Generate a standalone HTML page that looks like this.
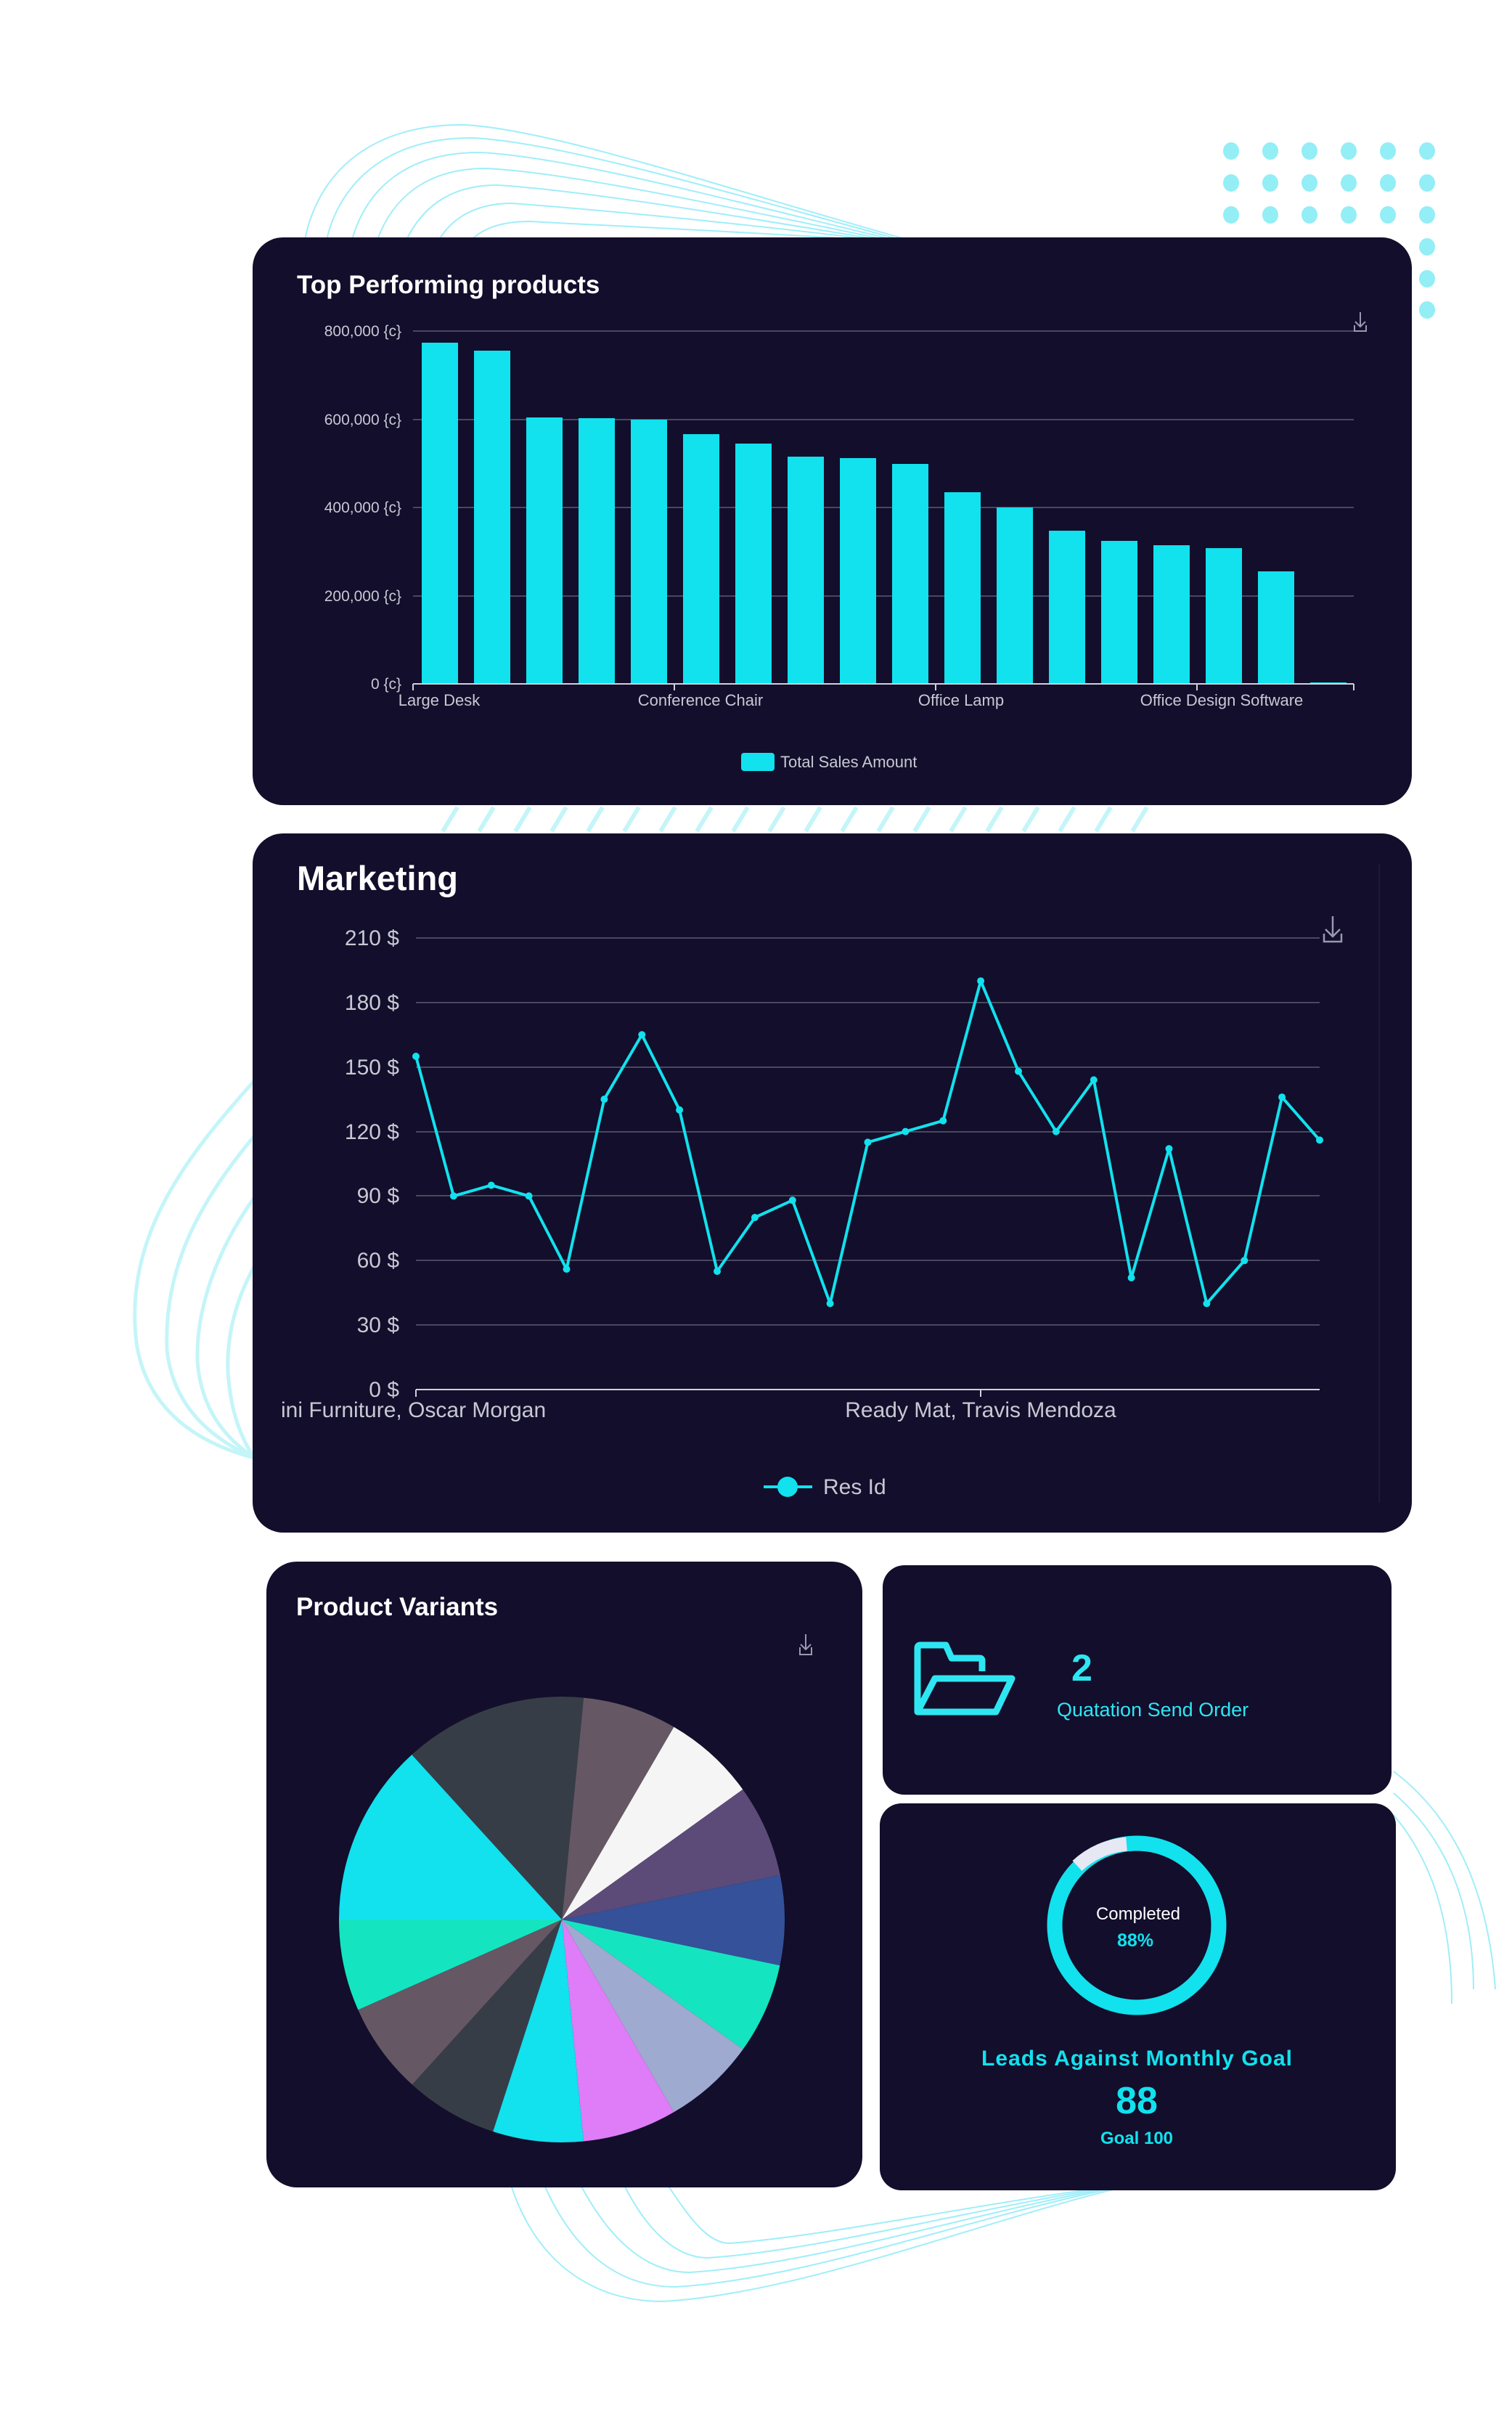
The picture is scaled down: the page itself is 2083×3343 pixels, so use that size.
<!DOCTYPE html>
<html><head><meta charset="utf-8"><style>
html,body{margin:0;padding:0;background:#fff;}
svg{display:block;}
text{font-family:"Liberation Sans",sans-serif;}
</style></head><body>
<svg width="2083" height="3343" viewBox="0 0 2083 3343" xmlns="http://www.w3.org/2000/svg">
<rect width="2083" height="3343" fill="#ffffff"/>
<g fill="none" stroke="#7fe9f7" stroke-width="2" opacity="0.75">
<path d="M420 330 C440 230 520 170 640 172 C760 178 1000 260 1250 330"/>
<path d="M450 330 C470 245 540 190 650 190 C770 195 1000 265 1240 330"/>
<path d="M485 330 C505 260 560 210 660 210 C780 215 1000 275 1230 330"/>
<path d="M520 330 C540 275 585 232 670 232 C790 238 1000 285 1220 330"/>
<path d="M560 330 C580 290 615 255 685 255 C800 262 1000 295 1210 330"/>
<path d="M605 330 C620 305 650 280 705 280 C810 288 1000 305 1200 330"/>
<path d="M650 330 C665 315 690 305 730 305 C820 310 1000 318 1190 330"/>
<path d="M704 3010 C740 3120 820 3170 913 3170 C1100 3160 1350 3060 1549 3012"/>
<path d="M750 3010 C790 3100 850 3150 930 3150 C1110 3140 1350 3050 1545 3012"/>
<path d="M800 3010 C840 3085 890 3130 950 3130 C1120 3120 1350 3045 1540 3012"/>
<path d="M860 3010 C890 3070 930 3110 975 3110 C1130 3100 1350 3040 1535 3012"/>
<path d="M920 3010 C950 3055 975 3090 1005 3090 C1140 3080 1350 3035 1530 3012"/>
<path d="M1920 2440 C2000 2500 2050 2600 2060 2740"/>
<path d="M1920 2470 C1990 2530 2030 2620 2030 2740"/>
<path d="M1920 2500 C1970 2560 2000 2640 2000 2760"/>
</g>
<g fill="none" stroke="#c4f5f8" stroke-width="5">
<path d="M350 1489 C260 1590 170 1700 188 1850 C205 1960 300 1995 350 2008"/>
<path d="M350 1565 C280 1650 225 1740 230 1860 C240 1950 310 1990 350 2008"/>
<path d="M350 1650 C300 1720 270 1800 272 1875 C278 1955 325 1990 350 2008"/>
<path d="M350 1745 C325 1790 312 1840 314 1890 C318 1950 335 1985 350 2008"/>
</g>
<g stroke="#c4f5f8" stroke-width="6">
<path d="M610 1145 L630 1112 M660 1145 L680 1112 M710 1145 L730 1112 M760 1145 L780 1112 M810 1145 L830 1112 M860 1145 L880 1112 M910 1145 L930 1112 M960 1145 L980 1112 M1010 1145 L1030 1112 M1060 1145 L1080 1112 M1110 1145 L1130 1112 M1160 1145 L1180 1112 M1210 1145 L1230 1112 M1260 1145 L1280 1112 M1310 1145 L1330 1112 M1360 1145 L1380 1112 M1410 1145 L1430 1112 M1460 1145 L1480 1112 M1510 1145 L1530 1112 M1560 1145 L1580 1112"/>
</g>
<g fill="#93eef5">
<ellipse cx="1696" cy="208" rx="11" ry="12"/><ellipse cx="1750" cy="208" rx="11" ry="12"/><ellipse cx="1804" cy="208" rx="11" ry="12"/><ellipse cx="1858" cy="208" rx="11" ry="12"/><ellipse cx="1912" cy="208" rx="11" ry="12"/><ellipse cx="1966" cy="208" rx="11" ry="12"/>
<ellipse cx="1696" cy="252" rx="11" ry="12"/><ellipse cx="1750" cy="252" rx="11" ry="12"/><ellipse cx="1804" cy="252" rx="11" ry="12"/><ellipse cx="1858" cy="252" rx="11" ry="12"/><ellipse cx="1912" cy="252" rx="11" ry="12"/><ellipse cx="1966" cy="252" rx="11" ry="12"/>
<ellipse cx="1696" cy="296" rx="11" ry="12"/><ellipse cx="1750" cy="296" rx="11" ry="12"/><ellipse cx="1804" cy="296" rx="11" ry="12"/><ellipse cx="1858" cy="296" rx="11" ry="12"/><ellipse cx="1912" cy="296" rx="11" ry="12"/><ellipse cx="1966" cy="296" rx="11" ry="12"/>
<ellipse cx="1966" cy="340" rx="11" ry="12"/><ellipse cx="1966" cy="384" rx="11" ry="12"/><ellipse cx="1966" cy="427" rx="11" ry="12"/>
</g>

<rect x="348" y="327" width="1597" height="782" rx="42" fill="#120e2b"/>
<text x="409" y="404" font-size="35" font-weight="bold" fill="#ffffff">Top Performing products</text>
<g stroke="#4a4860" stroke-width="2">
<line x1="569" y1="456" x2="1865" y2="456"/><line x1="569" y1="578" x2="1865" y2="578"/><line x1="569" y1="699" x2="1865" y2="699"/><line x1="569" y1="821" x2="1865" y2="821"/>
</g>
<g font-size="21" fill="#c8c8d4" text-anchor="end">
<text x="553" y="463">800,000 {c}</text><text x="553" y="585">600,000 {c}</text><text x="553" y="706">400,000 {c}</text><text x="553" y="828">200,000 {c}</text><text x="553" y="949">0 {c}</text>
</g>
<g fill="#12e1ee">
<rect x="581" y="472" width="50" height="470"/><rect x="653" y="483" width="50" height="459"/><rect x="725" y="575" width="50" height="367"/><rect x="797" y="576" width="50" height="366"/><rect x="869" y="578" width="50" height="364"/><rect x="941" y="598" width="50" height="344"/><rect x="1013" y="611" width="50" height="331"/><rect x="1085" y="629" width="50" height="313"/><rect x="1157" y="631" width="50" height="311"/><rect x="1229" y="639" width="50" height="303"/><rect x="1301" y="678" width="50" height="264"/><rect x="1373" y="699" width="50" height="243"/><rect x="1445" y="731" width="50" height="211"/><rect x="1517" y="745" width="50" height="197"/><rect x="1589" y="751" width="50" height="191"/><rect x="1661" y="755" width="50" height="187"/><rect x="1733" y="787" width="50" height="155"/><rect x="1805" y="940" width="50" height="2"/>
</g>
<g stroke="#d0d0dc" stroke-width="2">
<line x1="569" y1="942" x2="1865" y2="942"/>
<line x1="569" y1="942" x2="569" y2="951"/><line x1="929" y1="942" x2="929" y2="951"/><line x1="1289" y1="942" x2="1289" y2="951"/><line x1="1649" y1="942" x2="1649" y2="951"/><line x1="1865" y1="942" x2="1865" y2="951"/>
</g>
<g font-size="22" fill="#c8c8d4" text-anchor="middle">
<text x="605" y="972">Large Desk</text><text x="965" y="972">Conference Chair</text><text x="1324" y="972">Office Lamp</text><text x="1683" y="972">Office Design Software</text>
</g>
<rect x="1021" y="1037" width="46" height="25" rx="4" fill="#12e1ee"/>
<text x="1075" y="1057" font-size="22" fill="#c8c8d4">Total Sales Amount</text>
<g stroke="#9a98ae" stroke-width="2" fill="none"><path d="M1874 430 V450 M1867 443 L1874 450 L1881 443 M1866 448 V456 H1882 V448"/></g>

<rect x="348" y="1148" width="1597" height="963" rx="42" fill="#120e2b"/>
<line x1="1900" y1="1190" x2="1900" y2="2070" stroke="#1d1a38" stroke-width="2"/>
<text x="409" y="1226" font-size="47" font-weight="bold" fill="#ffffff">Marketing</text>
<g stroke="#4a4860" stroke-width="2">
<line x1="573" y1="1292" x2="1818" y2="1292"/><line x1="573" y1="1381" x2="1818" y2="1381"/><line x1="573" y1="1470" x2="1818" y2="1470"/><line x1="573" y1="1559" x2="1818" y2="1559"/><line x1="573" y1="1647" x2="1818" y2="1647"/><line x1="573" y1="1736" x2="1818" y2="1736"/><line x1="573" y1="1825" x2="1818" y2="1825"/>
</g>
<line x1="573" y1="1914" x2="1818" y2="1914" stroke="#d0d0dc" stroke-width="2"/>
<line x1="573" y1="1914" x2="573" y2="1924" stroke="#d0d0dc" stroke-width="2"/>
<line x1="1351" y1="1914" x2="1351" y2="1924" stroke="#d0d0dc" stroke-width="2"/>
<g font-size="30" fill="#c8c8d4" text-anchor="end">
<text x="550" y="1302">210 $</text><text x="550" y="1391">180 $</text><text x="550" y="1480">150 $</text><text x="550" y="1569">120 $</text><text x="550" y="1657">90 $</text><text x="550" y="1746">60 $</text><text x="550" y="1835">30 $</text><text x="550" y="1924">0 $</text>
</g>
<text x="387" y="1952" font-size="30" fill="#c8c8d4">ini Furniture, Oscar Morgan</text>
<text x="1351" y="1952" font-size="30" fill="#c8c8d4" text-anchor="middle">Ready Mat, Travis Mendoza</text>
<polyline fill="none" stroke="#12e1ee" stroke-width="4" stroke-linejoin="round" points="573,1455 624.9,1647.4 676.8,1632.6 728.6,1647.4 780.5,1748.1 832.4,1514.1 884.3,1425.3 936.1,1528.9 988,1751.1 1039.9,1677 1091.8,1653.3 1143.6,1795.5 1195.5,1573.4 1247.4,1558.6 1299.3,1543.7 1351.1,1351.2 1403,1475.6 1454.9,1558.6 1506.8,1487.5 1558.6,1760 1610.5,1582.3 1662.4,1795.5 1714.3,1736.3 1766.1,1511.2 1818,1570.4"/>
<g fill="#12e1ee">
<circle cx="573" cy="1455" r="5"/><circle cx="624.9" cy="1647.4" r="5"/><circle cx="676.8" cy="1632.6" r="5"/><circle cx="728.6" cy="1647.4" r="5"/><circle cx="780.5" cy="1748.1" r="5"/><circle cx="832.4" cy="1514.1" r="5"/><circle cx="884.3" cy="1425.3" r="5"/><circle cx="936.1" cy="1528.9" r="5"/><circle cx="988" cy="1751.1" r="5"/><circle cx="1039.9" cy="1677" r="5"/><circle cx="1091.8" cy="1653.3" r="5"/><circle cx="1143.6" cy="1795.5" r="5"/><circle cx="1195.5" cy="1573.4" r="5"/><circle cx="1247.4" cy="1558.6" r="5"/><circle cx="1299.3" cy="1543.7" r="5"/><circle cx="1351.1" cy="1351.2" r="5"/><circle cx="1403" cy="1475.6" r="5"/><circle cx="1454.9" cy="1558.6" r="5"/><circle cx="1506.8" cy="1487.5" r="5"/><circle cx="1558.6" cy="1760" r="5"/><circle cx="1610.5" cy="1582.3" r="5"/><circle cx="1662.4" cy="1795.5" r="5"/><circle cx="1714.3" cy="1736.3" r="5"/><circle cx="1766.1" cy="1511.2" r="5"/><circle cx="1818" cy="1570.4" r="5"/>
</g>
<line x1="1052" y1="2048" x2="1119" y2="2048" stroke="#12e1ee" stroke-width="4"/>
<circle cx="1085" cy="2048" r="14" fill="#12e1ee"/>
<text x="1134" y="2058" font-size="30" fill="#c8c8d4">Res Id</text>
<g stroke="#9a98ae" stroke-width="2.5" fill="none"><path d="M1836 1262 V1290 M1826 1280 L1836 1290 L1846 1280 M1824 1286 V1297 H1848 V1286"/></g>

<rect x="367" y="2151" width="821" height="862" rx="42" fill="#120e2b"/>
<text x="408" y="2225" font-size="35" font-weight="bold" fill="#ffffff">Product Variants</text>
<g stroke="#9a98ae" stroke-width="2" fill="none"><path d="M1110 2251 V2272 M1103 2265 L1110 2272 L1117 2265 M1102 2269 V2279 H1118 V2269"/></g>
<g stroke="none">
<path d="M774 2644 L804.0 2338.5 A307 307 0 0 1 928.4 2378.7Z" fill="#655764"/>
<path d="M774 2644 L928.4 2378.7 A307 307 0 0 1 1023.3 2464.9Z" fill="#f5f5f5"/>
<path d="M774 2644 L1023.3 2464.9 A307 307 0 0 1 1074.8 2582.8Z" fill="#5c4a78"/>
<path d="M774 2644 L1074.8 2582.8 A307 307 0 0 1 1074.4 2707.3Z" fill="#34519a"/>
<path d="M774 2644 L1074.4 2707.3 A307 307 0 0 1 1023.6 2822.7Z" fill="#14e5c0"/>
<path d="M774 2644 L1023.6 2822.7 A307 307 0 0 1 928.4 2909.3Z" fill="#9eaad0"/>
<path d="M774 2644 L928.4 2909.3 A307 307 0 0 1 804.0 2949.5Z" fill="#df7cf7"/>
<path d="M774 2644 L804.0 2949.5 A307 307 0 0 1 679.1 2936.0Z" fill="#12e1ee"/>
<path d="M774 2644 L679.1 2936.0 A307 307 0 0 1 567.8 2871.4Z" fill="#373d47"/>
<path d="M774 2644 L567.8 2871.4 A307 307 0 0 1 493.3 2768.4Z" fill="#655764"/>
<path d="M774 2644 L493.3 2768.4 A307 307 0 0 1 467 2644Z" fill="#14e5c0"/>
<path d="M774 2644 L467 2644 A307 307 0 0 1 567.4 2416.9Z" fill="#12e1ee"/>
<path d="M774 2644 L567.4 2416.9 A307 307 0 0 1 804.0 2338.5Z" fill="#373d47"/>
</g>

<rect x="1216" y="2156" width="701" height="316" rx="30" fill="#120e2b"/>
<g fill="none" stroke="#2ee6f2" stroke-width="9" stroke-linejoin="round">
<path d="M1264 2358 V2270 Q1264 2266 1268 2266 H1303 L1311 2284 H1350 Q1353 2284 1353 2288 V2302"/>
<path d="M1264 2358 L1288 2312 H1394 L1372 2358 Z"/>
</g>
<text x="1476" y="2315" font-size="52" font-weight="bold" fill="#2ee6f2">2</text>
<text x="1456" y="2364" font-size="27" fill="#2ee6f2">Quatation Send Order</text>

<rect x="1212" y="2484" width="711" height="533" rx="30" fill="#120e2b"/>
<circle cx="1566" cy="2652" r="113" fill="none" stroke="#12e1ee" stroke-width="21"/>
<path d="M1484 2570 A113 113 0 0 1 1552 2540" fill="none" stroke="#e6e8f4" stroke-width="19"/>
<text x="1568" y="2644" font-size="24" fill="#ffffff" text-anchor="middle">Completed</text>
<text x="1564" y="2681" font-size="25" font-weight="bold" fill="#12e1ee" text-anchor="middle">88%</text>
<text x="1566" y="2845" font-size="30" font-weight="bold" fill="#12e1ee" text-anchor="middle" textLength="428">Leads Against Monthly Goal</text>
<text x="1566" y="2911" font-size="52" font-weight="bold" fill="#12e1ee" text-anchor="middle">88</text>
<text x="1566" y="2953" font-size="24" font-weight="bold" fill="#12e1ee" text-anchor="middle">Goal 100</text>
</svg>
</body></html>
